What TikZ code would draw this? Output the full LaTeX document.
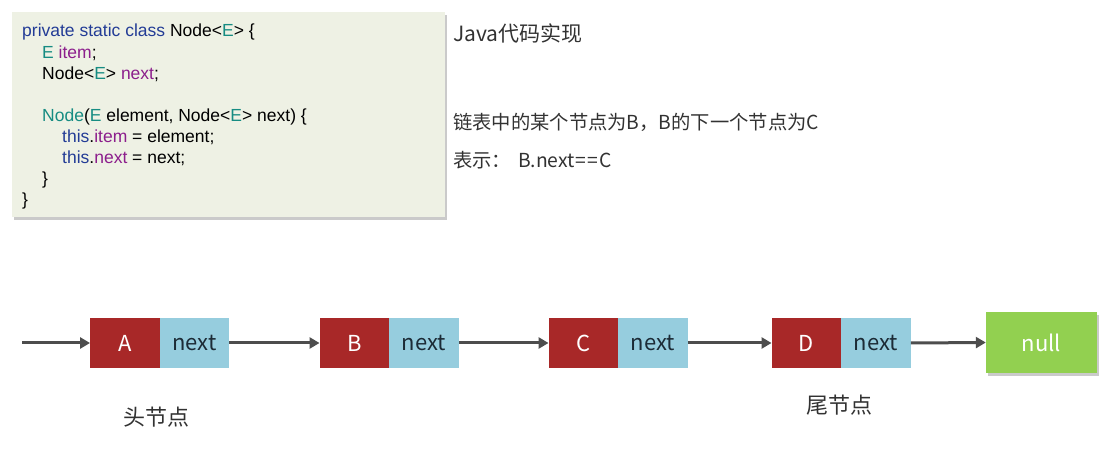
\documentclass[tikz,border=0pt]{standalone}
\usepackage{fontspec}
\setmainfont{Liberation Sans}
\newfontfamily\cjk{Noto Sans CJK SC}
\usepackage{tikz}
\usetikzlibrary{arrows.meta,shadows}
\definecolor{kwblue}{RGB}{35,60,150}
\definecolor{tyteal}{RGB}{22,140,130}
\definecolor{fdpurple}{RGB}{140,30,140}
\definecolor{codebg}{RGB}{238,241,228}
\definecolor{itemred}{RGB}{168,40,40}
\definecolor{nextblue}{RGB}{150,205,222}
\definecolor{nullgreen}{RGB}{146,208,80}
\definecolor{arrowgray}{RGB}{77,77,77}
\definecolor{txtgray}{RGB}{50,50,50}
\newcommand{\codesize}{\fontsize{17.5}{21}\selectfont}
\newcommand{\boxw}{69.5pt}
\newcommand{\boxh}{50pt}
\tikzset{
  codeline/.style={anchor=base west, inner sep=0pt, font=\codesize},
  note/.style={anchor=base west, inner sep=0pt, text=txtgray},
  itembox/.style={fill=itemred, text=white, inner sep=0pt, minimum width=\boxw, minimum height=\boxh, font=\cjk\fontsize{22}{24}\selectfont},
  nextbox/.style={fill=nextblue, text={rgb,255:red,28;green,43;blue,54}, inner sep=0pt, minimum width=\boxw, minimum height=\boxh, font=\cjk\fontsize{22}{24}\selectfont},
  link/.style={draw=arrowgray, line width=3pt, -{Triangle[length=10pt,width=11pt]}}
}

\begin{document}
\begin{tikzpicture}[x=1pt,y=-1pt]
\useasboundingbox (0,0) rectangle (1117,462);
% code block
\node[fill=codebg, inner sep=0pt, minimum width=433pt, minimum height=205pt,
  drop shadow={shadow xshift=2pt, shadow yshift=-3pt, opacity=0.35, fill=black!60}] (code) at (228.5,114.5) {};
\node[codeline] (l1) at (22,37) {\textcolor{kwblue}{private static class} Node<\textcolor{tyteal}{E}> \{};
\node[codeline] (l2) at (42,58.1) {\textcolor{tyteal}{E} \textcolor{fdpurple}{item};};
\node[codeline] (l3) at (42,79.2) {Node<\textcolor{tyteal}{E}> \textcolor{fdpurple}{next};};
\node[codeline] (l5) at (42,121.4) {\textcolor{tyteal}{Node}(\textcolor{tyteal}{E} element, Node<\textcolor{tyteal}{E}> next) \{};
\node[codeline] (l6) at (62,142.5) {\textcolor{kwblue}{this}.\textcolor{fdpurple}{item} = element;};
\node[codeline] (l7) at (62,163.6) {\textcolor{kwblue}{this}.\textcolor{fdpurple}{next} = next;};
\node[codeline] (l8) at (42,184.7) {\}};
\node[codeline] (l9) at (22,205.8) {\}};
% notes
\node[note, font=\cjk\fontsize{21}{24}\selectfont] (title) at (453,42) {Java代码实现};
\node[note, font=\cjk\fontsize{19.3}{22}\selectfont] (say) at (453,130) {链表中的某个节点为B，B的下一个节点为C};
\node[note, font=\cjk\fontsize{19.3}{22}\selectfont] (expr) at (453,168) {表示：\hspace{7pt}B.next\hspace{1pt}=\hspace{1pt}=\hspace{1pt}C};
% list
\coordinate (start) at (22,343);
\node[itembox] (a) at (125,343) {A};
\node[nextbox] (an) at (194.5,343) {next};
\node[itembox] (b) at (354.5,343) {B};
\node[nextbox] (bn) at (424,343) {next};
\node[itembox] (c) at (583.5,343) {C};
\node[nextbox] (cn) at (653,343) {next};
\node[itembox] (d) at (806.5,343) {D};
\node[nextbox] (dn) at (876,343) {next};
\node[fill=nullgreen, text=white, inner sep=0pt, minimum width=111pt, minimum height=61pt,
  font=\cjk\fontsize{22}{24}\selectfont,
  drop shadow={shadow xshift=2pt, shadow yshift=-3pt, opacity=0.35, fill=black!60}] (null) at (1041.5,342.5) {null};
\draw[link] (start) -- (a.west);
\draw[link] (an.east) -- (b.west);
\draw[link] (bn.east) -- (c.west);
\draw[link] (cn.east) -- (d.west);
\draw[link] (dn.east) -- (null.west);
% head and tail
\node[text=txtgray, font=\cjk\fontsize{22}{24}\selectfont] (head) at (156,417) {头节点};
\node[text=txtgray, font=\cjk\fontsize{22}{24}\selectfont] (tail) at (839,405) {尾节点};
\end{tikzpicture}
\end{document}
